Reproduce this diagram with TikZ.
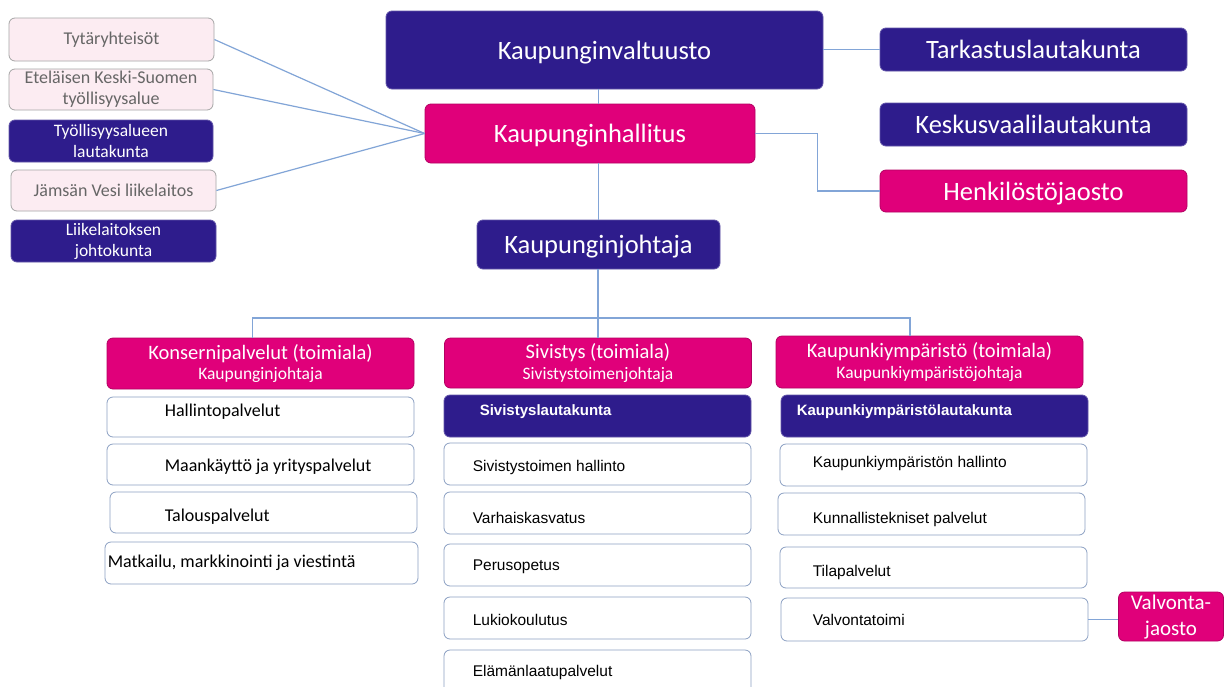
\documentclass[tikz,border=0pt]{standalone}
\usepackage{fontspec}
\setmainfont{Carlito}
\newfontfamily\arialf{Liberation Sans}
\definecolor{dblue}{RGB}{46,28,140}
\definecolor{mag}{RGB}{224,0,122}
\definecolor{lpink}{RGB}{252,236,242}
\definecolor{lnc}{RGB}{130,165,215}
\definecolor{bordc}{RGB}{140,160,195}
\begin{document}
\begin{tikzpicture}[x=1pt,y=-1pt,
  base/.style={rounded corners=6pt, inner sep=0pt, align=center, line width=0.8pt},
  dbox/.style={base, fill=dblue, draw=dblue!75!white, text=white},
  mbox/.style={base, fill=mag, draw=mag!80!black, text=white},
  pbox/.style={base, fill=lpink, draw=gray!70, text=black!60, font=\fontsize{18}{21}\selectfont},
  wbox/.style={base, fill=white, draw=bordc},
  lbl/.style={anchor=west, inner sep=0pt},
  cal/.style={font=\fontsize{18}{21}\selectfont, text=black},
  ari/.style={font=\arialf\fontsize{15.5}{18}\selectfont, text=black},
  arib/.style={font=\arialf\bfseries\fontsize{15}{18}\selectfont, text=white},
  big/.style={font=\fontsize{26.5}{30}\selectfont, text depth=0pt},
  conn/.style={draw=lnc, line width=1.2pt}]
\useasboundingbox (0,0) rectangle (1224,686);
\clip (0,0) rectangle (1224,686);
\fill[white] (0,0) rectangle (1224,686);

% left column
\node[pbox, minimum width=205pt, minimum height=43pt] (t1) at (111.5,39.5) {Tytäryhteisöt};
\node[pbox, minimum width=204pt, minimum height=41pt] (t2) at (111,89.5) {Eteläisen Keski-Suomen\\työllisyysalue};
\node[dbox, minimum width=204pt, minimum height=42pt, font=\fontsize{17.5}{21}\selectfont] (t3) at (111,141) {Työllisyysalueen\\lautakunta};
\node[pbox, minimum width=205pt, minimum height=41pt] (t4) at (113.5,190.5) {Jämsän Vesi liikelaitos};
\node[dbox, minimum width=205pt, minimum height=42pt, font=\fontsize{17.5}{21}\selectfont] (t5) at (113.5,241) {Liikelaitoksen\\johtokunta};

% top
\node[dbox, big, minimum width=437pt, minimum height=78pt] (valt) at (604.5,50) {Kaupunginvaltuusto};
\node[mbox, big, minimum width=330pt, minimum height=59pt] (hall) at (590,133.5) {Kaupunginhallitus};
\node[dbox, big, minimum width=243pt, minimum height=49pt] (joht) at (598.5,244.5) {Kaupunginjohtaja};
\node[dbox, big, minimum width=307pt, minimum height=43pt] (tark) at (1033.5,49.5) {Tarkastuslautakunta};
\node[dbox, big, minimum width=307pt, minimum height=43pt] (kesk) at (1033.5,124.5) {Keskusvaalilautakunta};
\node[mbox, big, minimum width=307pt, minimum height=42pt] (henk) at (1033.5,191) {Henkilöstöjaosto};

% column heads
\node[mbox, minimum width=307pt, minimum height=51pt] (k1) at (260.5,363.5)
  {{\fontsize{20.5}{23}\selectfont Konsernipalvelut (toimiala)}\\[4pt]{\fontsize{17.5}{21}\selectfont Kaupunginjohtaja}};
\node[mbox, minimum width=307pt, minimum height=50pt] (k2) at (598,363)
  {{\fontsize{20.5}{23}\selectfont Sivistys (toimiala)}\\[4pt]{\fontsize{17.5}{21}\selectfont Sivistystoimenjohtaja}};
\node[mbox, minimum width=307pt, minimum height=52pt] (k3) at (929.5,362)
  {{\fontsize{20.5}{23}\selectfont Kaupunkiympäristö (toimiala)}\\[4pt]{\fontsize{17.5}{21}\selectfont Kaupunkiympäristöjohtaja}};

% column 1
\node[wbox, minimum width=307pt, minimum height=40pt, label={[lbl,cal,xshift=58pt,yshift=5pt]west:Hallintopalvelut}] (c1a) at (260.5,417) {};
\node[wbox, minimum width=307pt, minimum height=41pt, label={[lbl,cal,xshift=58pt,yshift=-2pt]west:Maankäyttö ja yrityspalvelut}] (c1b) at (260.5,464.5) {};
\node[wbox, minimum width=307pt, minimum height=41pt, label={[lbl,cal,xshift=55pt,yshift=-4pt]west:Talouspalvelut}] (c1c) at (263.5,512.5) {};
\node[wbox, minimum width=313pt, minimum height=42pt, label={[lbl,cal,xshift=3pt]west:Matkailu, markkinointi ja viestintä}] (c1d) at (261.5,563) {};

% column 2
\node[dbox, minimum width=307pt, minimum height=42pt, label={[lbl,arib,xshift=36pt,yshift=4pt]west:Sivistyslautakunta}] (s0) at (597.5,416) {};
\node[wbox, minimum width=307pt, minimum height=42pt, label={[lbl,ari,xshift=29pt,yshift=-3pt]west:Sivistystoimen hallinto}] (s1) at (597.5,464) {};
\node[wbox, minimum width=307pt, minimum height=42pt, label={[lbl,ari,xshift=29pt,yshift=-5pt]west:Varhaiskasvatus}] (s2) at (597.5,513) {};
\node[wbox, minimum width=307pt, minimum height=42pt, label={[lbl,ari,xshift=29pt,yshift=-2pt]west:Perusopetus}] (s3) at (597.5,565) {};
\node[wbox, minimum width=307pt, minimum height=42pt, label={[lbl,ari,xshift=29pt,yshift=-2pt]west:Lukiokoulutus}] (s4) at (597.5,618) {};
\node[wbox, minimum width=307pt, minimum height=50pt, label={[lbl,ari,xshift=29pt,yshift=3pt]west:Elämänlaatupalvelut}] (s5) at (597.5,675) {};

% column 3
\node[dbox, minimum width=307pt, minimum height=42pt, label={[lbl,arib,xshift=16pt,yshift=4pt]west:Kaupunkiympäristölautakunta}] (u0) at (934.5,416) {};
\node[wbox, minimum width=307pt, minimum height=42pt, label={[lbl,ari,xshift=33pt,yshift=2pt]west:Kaupunkiympäristön hallinto}] (u1) at (933.5,465) {};
\node[wbox, minimum width=307pt, minimum height=42pt, label={[lbl,ari,xshift=35pt,yshift=-5pt]west:Kunnallistekniset palvelut}] (u2) at (931.5,514) {};
\node[wbox, minimum width=307pt, minimum height=41pt, label={[lbl,ari,xshift=33pt,yshift=-4.5pt]west:Tilapalvelut}] (u3) at (933.5,567.5) {};
\node[wbox, minimum width=307pt, minimum height=43pt, label={[lbl,ari,xshift=32pt,yshift=0pt]west:Valvontatoimi}] (u4) at (934.5,619.5) {};
\node[mbox, minimum width=105pt, minimum height=49pt, font=\fontsize{21}{26}\selectfont] (vj) at (1171,616.5) {Valvonta-\\jaosto};

% connectors
\coordinate (bus) at (598,318);
\draw[conn] (t1.east) -- (hall.west);
\draw[conn] (t2.east) -- (hall.west);
\draw[conn] (t4.east) -- (hall.west);
\draw[conn] (tark.west -| valt.east) -- (tark.west);
\draw[conn] (valt.south -| joht.north) -- (hall.north -| joht.north);
\draw[conn] (hall.south -| joht.north) -- (joht.north);
\draw[conn] (hall.east) -- ++(62,0) |- (henk.west);
\draw[conn] (joht.south -| bus) -- (bus);
\draw[conn] ([xshift=-8pt]k1.north) |- (bus) -| ([xshift=-19.5pt]k3.north);
\draw[conn] (bus) -- (k2.north);
\draw[conn] (u4.east) -- (u4.east -| vj.west);
\end{tikzpicture}
\end{document}
